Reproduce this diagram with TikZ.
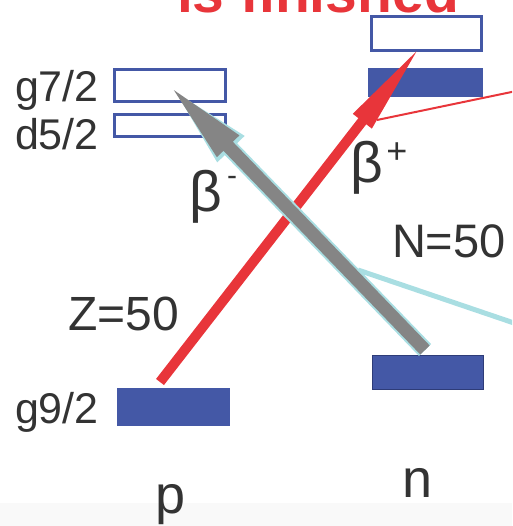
\documentclass[tikz,border=0pt]{standalone}
\usepackage{fontspec}
\setmainfont{Liberation Sans}
\usetikzlibrary{arrows.meta}
\definecolor{lvblue}{HTML}{4458A6}
\definecolor{lvdark}{HTML}{2E3C78}
\definecolor{arred}{HTML}{E8353A}
\definecolor{argray}{HTML}{858585}
\definecolor{arcyan}{HTML}{A9DEE2}
\definecolor{txt}{HTML}{333333}
\definecolor{bottomgray}{HTML}{F9F9F9}
\tikzset{
  openlevel/.style={draw=lvblue, line width=3pt, fill=white, inner sep=0pt, outer sep=0pt},
  fulllevel/.style={fill=lvblue, inner sep=0pt, outer sep=0pt},
  lab/.style={text=txt, inner sep=0pt, outer sep=0pt, anchor=base west},
  redarrow/.style={draw=arred, line width=10pt, -{Triangle[length=99pt,width=21pt]}},
  grayedge/.style={draw=arcyan, line width=17pt, -{Triangle[length=92pt,width=32pt]}},
  grayarrow/.style={draw=argray, line width=13pt, -{Triangle[length=88pt,width=27pt]}},
}
\begin{document}
\begin{tikzpicture}[x=1pt,y=-1pt]
\useasboundingbox (0,0) rectangle (512,526);
\clip (0,0) rectangle (512,526);
\fill[bottomgray] (0,503) rectangle (512,526);
% title fragment
\node[lab, text=arred, font=\fontsize{57}{57}\selectfont\bfseries] (title) at (177,13) {is finished};
% levels
\node[openlevel, minimum width=111pt, minimum height=32pt] (g7) at (170,85.5) {};
\node[openlevel, minimum width=111pt, minimum height=22pt] (d5) at (170,125.5) {};
\node[openlevel, minimum width=110pt, minimum height=34pt] (rtop) at (426.5,33.5) {};
\node[fulllevel, minimum width=115pt, minimum height=29pt] (rmid) at (425.5,82.5) {};
\node[fulllevel, minimum width=113pt, minimum height=38pt] (g9) at (173.5,407) {};
\node[fulllevel, draw=lvdark, line width=1pt, minimum width=111pt, minimum height=34pt] (nlev) at (428,372.5) {};
% coordinates
\coordinate (rtail) at (160,382);
\coordinate (rtip) at (423,43);
\coordinate (rl1) at (377,120);
\coordinate (rl2) at (514,91.5);
\coordinate (cl1) at (358,270);
\coordinate (cl2) at (514,323);
\coordinate (gtail) at (425,350);
\coordinate (gtip) at (167,83);
% lines and arrows
\draw[arred, line width=2pt] (rl1) -- (rl2);
\draw[redarrow] (rtail) -- (rtip);
\draw[arcyan, line width=5pt] (cl1) -- (cl2);
\draw[grayedge] (gtail) -- (gtip);
\draw[grayarrow] (gtail) -- (gtip);
% labels
\node[lab, font=\fontsize{43}{43}\selectfont] (lg7) at (15,102) {g7/2};
\node[lab, font=\fontsize{43}{43}\selectfont] (ld5) at (15,150) {d5/2};
\node[lab, font=\fontsize{43}{43}\selectfont] (lg9) at (15,423) {g9/2};
\node[lab, font=\fontsize{48}{48}\selectfont] (lz) at (68,330) {Z=50};
\node[lab, font=\fontsize{47}{47}\selectfont] (ln50) at (392,257) {N=50};
\node[lab, font=\fontsize{57}{57}\selectfont] (bm) at (189,212) {β};
\node[text=txt, inner sep=0pt, font=\fontsize{30}{30}\selectfont] (bmsign) at (232,181) {-};
\node[lab, font=\fontsize{57}{57}\selectfont] (bp) at (350,183) {β};
\node[text=txt, inner sep=0pt, font=\fontsize{36}{36}\selectfont] (bpsign) at (397,153) {+};
\node[text=txt, inner sep=0pt, anchor=base, font=\fontsize{54}{54}\selectfont] (lp) at (171,513) {p};
\node[text=txt, inner sep=0pt, anchor=base, font=\fontsize{54}{54}\selectfont] (lnn) at (418,497) {n};
\end{tikzpicture}
\end{document}
